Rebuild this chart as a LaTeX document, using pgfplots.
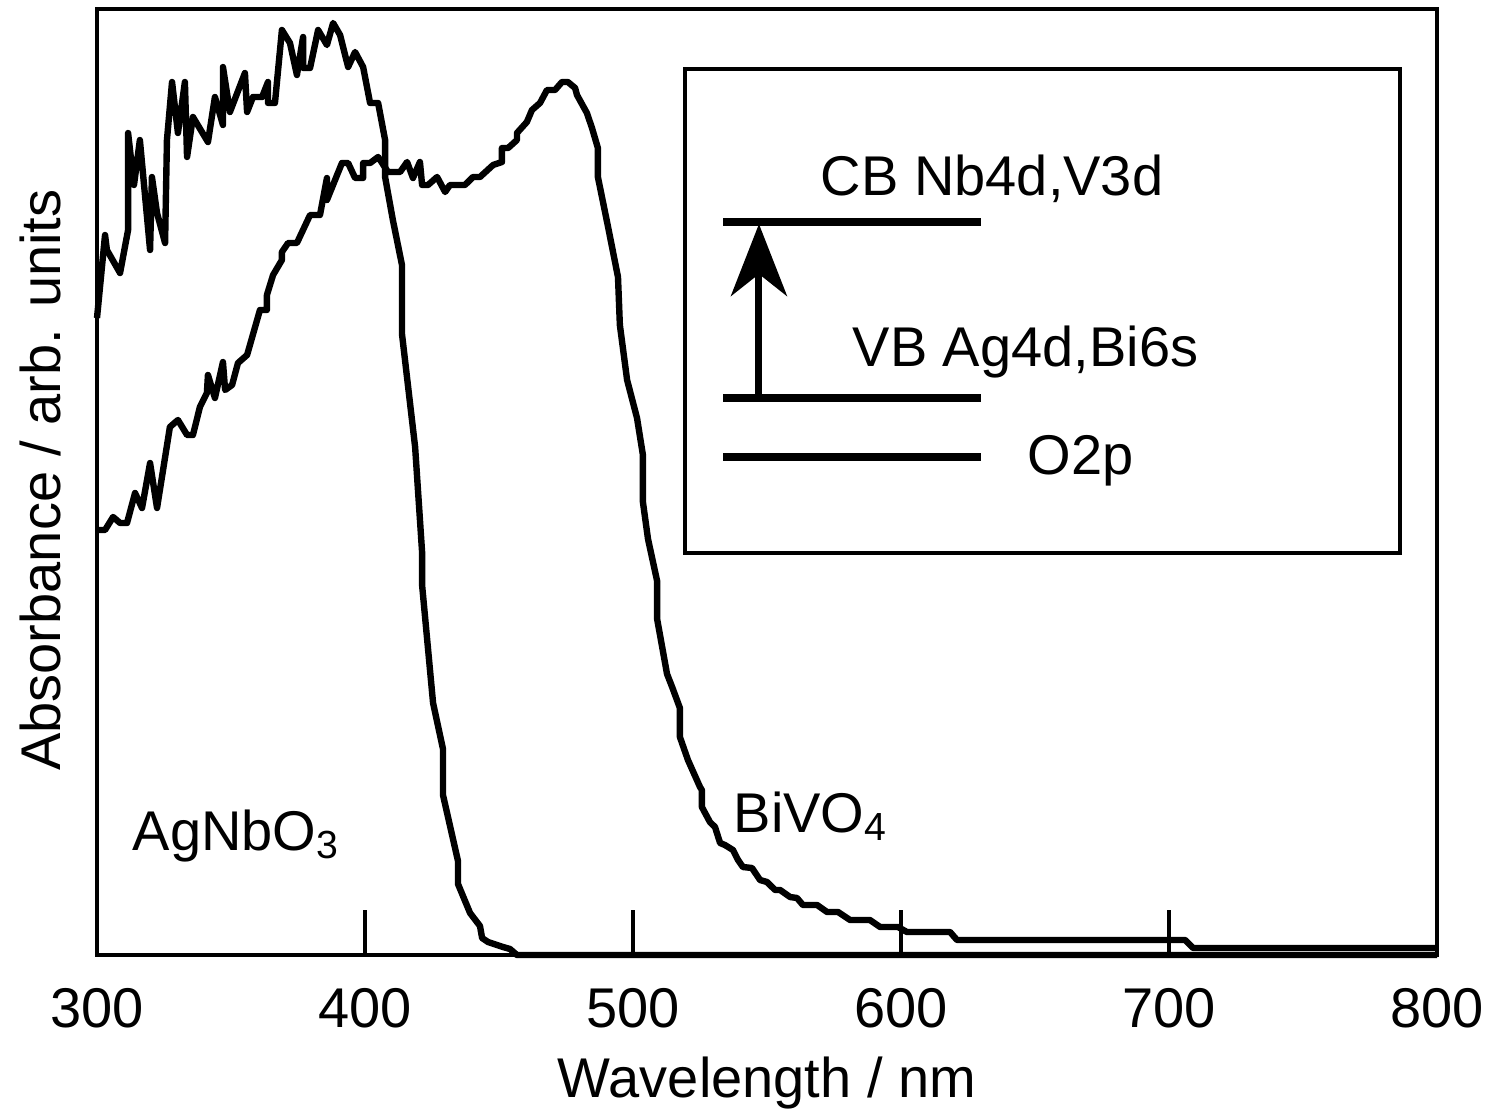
\documentclass[border=0pt]{standalone}
\usepackage{pgfplots}
\pgfplotsset{compat=1.18}
\usepackage{fontspec}
\setmainfont{Liberation Sans}
\usetikzlibrary{arrows.meta}
\newcommand{\fs}{\fontsize{14}{16}\selectfont}
\begin{document}
\begin{tikzpicture}
\begin{axis}[
  scale only axis, width=335pt, height=236.5pt,
  xmin=300, xmax=800, ymin=0, ymax=946,
  axis line style={line width=1pt},
  xtick={300,400,500,600,700,800},
  ytick=\empty,
  xtick pos=bottom,
  tick align=inside,
  major tick length=11.25pt,
  major tick style={line width=1pt, black},
  /pgf/number format/assume math mode=true,
  xticklabel style={font=\fs, anchor=base, inner sep=0pt, yshift=-18pt},
  xlabel={Wavelength / nm},
  ylabel={Absorbance / arb. units},
  label style={font=\fs, inner sep=0pt},
  xlabel style={at={(axis description cs:0.5,0)}, anchor=base, yshift=-35.5pt},
  ylabel style={at={(axis description cs:-0.0276,0.502)}, anchor=base},
  clip=false,
]
% AgNbO3
\addplot[black, line width=1.6pt, line join=round] coordinates {
(300.0,637)(303.0,720)(303.7,705)(308.6,682)(311.6,725)(311.6,822)(313.8,770)(316.0,815)
(319.8,705)(320.5,778)(322.4,742)(325.4,712)(326.1,815)(328.0,873)(330.2,822)(332.8,873)
(333.6,798)(335.8,838)(341.4,813)(344.0,858)(347.0,830)(347.0,888)(349.6,843)(355.2,882)
(356.0,843)(358.2,858)(361.6,858)(363.8,873)(363.8,852)(366.4,852)(369.0,925)(372.0,912)
(374.6,880)(376.9,918)(376.9,887)(379.5,887)(382.5,925)(385.8,910)(388.1,932)(390.7,920)
(393.7,888)(396.3,903)(399.3,888)(401.9,852)(404.9,852)(407.5,815)(407.5,778)(410.4,735)
(413.8,690)(413.8,621)(418.7,508)(421.3,403)(421.3,370)(425.4,252)(429.1,206)(429.1,160)
(434.7,94)(434.7,71)(439.2,42)(442.9,29)(443.7,17)(445.9,13)(451.5,8)(454.1,6)(456.7,0)(800,0)
};
% BiVO4
\addplot[black, line width=1.6pt, line join=round] coordinates {
(300.0,425)(303.0,425)(306.0,438)(308.6,432)(311.2,432)(314.2,462)(316.8,447)(319.8,492)
(322.4,447)(327.2,528)(330.2,535)(333.6,520)(335.8,520)(338.4,548)(341.0,562)(341.4,580)
(344.0,557)(347.0,593)(347.8,565)(350.4,570)(352.6,592)(356.0,600)(360.8,645)(363.4,645)
(363.4,660)(365.7,680)(369.0,695)(369.0,703)(371.3,712)(374.6,712)(379.5,740)(383.2,740)
(385.8,777)(385.8,755)(391.4,792)(393.7,792)(396.3,777)(399.3,777)(399.3,792)(401.9,792)
(404.9,798)(408.6,783)(413.1,783)(415.7,793)(417.9,777)(420.5,793)(421.3,770)(423.5,770)
(426.9,778)(429.9,763)(431.7,770)(437.3,770)(440.3,778)(442.9,778)(447.8,790)(451.1,793)
(451.1,807)(453.4,807)(456.7,815)(456.7,822)(460.4,833)(462.3,845)(465.3,852)(467.9,865)
(470.9,865)(473.5,873)(475.7,873)(478.4,867)(479.1,860)(482.8,842)(484.7,827)(486.9,807)
(486.9,778)(490.7,728)(494.4,678)(495.1,630)(497.8,575)(501.5,537)(503.7,500)(503.7,453)
(505.6,416)(509.0,374)(509.0,336)(512.7,281)(514.6,268)(517.5,247)(517.5,218)(520.5,195)
(525.0,168)(525.7,165)(525.7,148)(528.7,133)(530.6,128)(532.5,112)(534.3,110)(537.3,105)
(539.2,95)(541.0,88)(544.4,87)(547.4,75)(550.0,73)(553.0,65)(554.9,65)(558.6,58)(561.2,57)
(563.4,50)(568.7,50)(572.4,43)(576.5,43)(581.0,35)(588.4,35)(592.2,28)(598.9,28)(602.2,23)
(618.3,23)(620.9,15)(706.0,15)(709.0,7)(800.0,7)
};
% labels
\node[font=\fs, anchor=base west, inner sep=0pt] at (axis cs:313.1,105) {AgNbO\textsubscript{3}};
\node[font=\fs, anchor=base west, inner sep=0pt] at (axis cs:537.3,123) {BiVO\textsubscript{4}};
% inset
\draw[line width=1pt] (axis cs:519.4,886) rectangle (axis cs:786.2,402);
\draw[line width=2pt] (axis cs:533.6,733) -- (axis cs:629.9,733);
\draw[line width=2pt] (axis cs:533.6,557) -- (axis cs:629.9,557);
\draw[line width=2pt] (axis cs:533.6,498) -- (axis cs:629.9,498);
\draw[line width=1.75pt, -{Stealth[length=18pt, width=14pt, inset=5.5pt]}] (axis cs:547.0,557) -- (axis cs:547.0,731);
\node[font=\fs, anchor=base west, inner sep=0pt] at (axis cs:569.8,759) {CB Nb4d,V3d};
\node[font=\fs, anchor=base west, inner sep=0pt] at (axis cs:581.7,588) {VB Ag4d,Bi6s};
\node[font=\fs, anchor=base west, inner sep=0pt] at (axis cs:647.0,481) {O2p};
\end{axis}
\path (current axis.south west) ++(-24.25pt,-40.5pt) coordinate (bbA);
\path (current axis.north east) ++(13.75pt,2.25pt) coordinate (bbB);
\path (bbA) rectangle (bbB);
\end{tikzpicture}
\end{document}
